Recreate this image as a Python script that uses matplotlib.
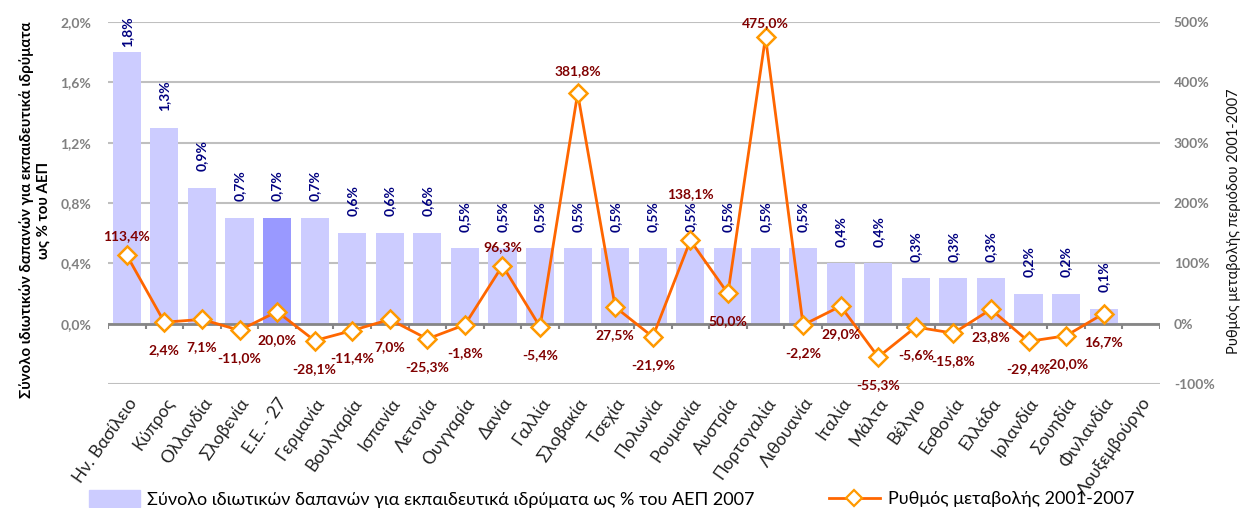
import numpy as np
import matplotlib.pyplot as plt
from matplotlib.lines import Line2D
from matplotlib.patches import Patch

plt.rcParams['font.family'] = ['Lato', 'DejaVu Sans']

# data
countries = ['Ην. Βασίλειο', 'Κύπρος', 'Ολλανδία', 'Σλοβενία', 'Ε.Ε. - 27', 'Γερμανία',
             'Βουλγαρία', 'Ισπανία', 'Λετονία', 'Ουγγαρία', 'Δανία', 'Γαλλία',
             'Σλοβακία', 'Τσεχία', 'Πολωνία', 'Ρουμανία', 'Αυστρία', 'Πορτογαλία',
             'Λιθουανία', 'Ιταλία', 'Μάλτα', 'Βέλγιο', 'Εσθονία', 'Ελλάδα',
             'Ιρλανδία', 'Σουηδία', 'Φινλανδία', 'Λουξεμβούργο']
share_2007 = [1.8, 1.3, 0.9, 0.7, 0.7, 0.7, 0.6, 0.6, 0.6, 0.5, 0.5, 0.5, 0.5, 0.5,
              0.5, 0.5, 0.5, 0.5, 0.5, 0.4, 0.4, 0.3, 0.3, 0.3, 0.2, 0.2, 0.1, None]
change_01_07 = [113.4, 2.4, 7.1, -11.0, 20.0, -28.1, -11.4, 7.0, -25.3, -1.8, 96.3,
                -5.4, 381.8, 27.5, -21.9, 138.1, 50.0, 475.0, -2.2, 29.0, -55.3,
                -5.6, -15.8, 23.8, -29.4, -20.0, 16.7, None]

bar_name = 'Σύνολο ιδιωτικών δαπανών για εκπαιδευτικά ιδρύματα ως % του ΑΕΠ 2007'
line_name = 'Ρυθμός μεταβολής 2001-2007'

# label placement for the line (px from the point, + is above)
line_lbl_off = {0: 19, 10: 18, 12: 22, 15: 46, 17: 14}

def pct(v, dec=1):
    return f'{v:.{dec}f}%'.replace('.', ',')

W, H = 1241, 508
fig = plt.figure(figsize=(W / 100, H / 100), dpi=100)
ax = fig.add_axes([108 / W, 1 - 384 / H, (1160 - 108) / W, (384 - 22) / H])
ax2 = ax.twinx()

n = len(countries)
x = np.arange(n)

# bars
bx = [i for i in range(n) if share_2007[i] is not None]
bv = [share_2007[i] for i in bx]
cols = ['#9999FF' if countries[i] == 'Ε.Ε. - 27' else '#CCCCFF' for i in bx]
ax.bar(bx, bv, width=0.75, color=cols, zorder=2)
for i, v in zip(bx, bv):
    off = 12 if v < 1.7 else 3.5
    ax.annotate(pct(v), (i, v), xytext=(0, off), textcoords='offset points',
                rotation=90, ha='center', va='bottom', color='#000080',
                fontsize=10, fontweight='bold')

ax.set_xlim(-0.5, n - 0.5)
ax.set_ylim(-0.4, 2.0)
ax.set_yticks(np.arange(-0.4, 2.01, 0.4))
ax.set_yticklabels([''] + [pct(v) for v in np.arange(0, 2.01, 0.4)])
ax.grid(axis='y', color='#BFBFBF', lw=1.5, zorder=0)
ax.set_axisbelow(True)
ax.tick_params(axis='y', length=0, pad=12, labelcolor='#808080', labelsize=10)
for lbl in ax.get_yticklabels():
    lbl.set_fontweight('bold')
ax.axhline(0, color='#868686', lw=2, zorder=3)
ax.vlines(np.arange(-0.5, n, 1), -0.035, 0, color='#868686', lw=1.5, zorder=3)

ax.set_xticks(x)
ax.set_xticklabels(countries, rotation=55, ha='right', rotation_mode='anchor',
                   fontsize=12.5, color='#222222')
ax.tick_params(axis='x', length=0, pad=8)

# line
yv = np.array([np.nan if v is None else v for v in change_01_07], dtype=float)
ax2.plot(x, yv, color='#FF6600', lw=2, marker='D', markersize=9,
         markerfacecolor='white', markeredgecolor='#FF9900', markeredgewidth=1.8,
         zorder=5)
for i, v in enumerate(change_01_07):
    if v is None:
        continue
    off_px = line_lbl_off.get(i, -28)
    ax2.annotate(pct(v), (i, v), xytext=(0, off_px * 0.72),
                 textcoords='offset points', ha='center', va='center',
                 color='#800000', fontsize=10, fontweight='bold', zorder=6)

ax2.set_ylim(-100, 500)
ax2.set_yticks(np.arange(-100, 501, 100))
ax2.set_yticklabels([f'{v}%' for v in range(-100, 501, 100)])
ax2.tick_params(axis='y', length=0, pad=10, labelcolor='#808080', labelsize=10)
for lbl in ax2.get_yticklabels():
    lbl.set_fontweight('bold')

for a in (ax, ax2):
    for s in a.spines.values():
        s.set_visible(False)

fig.text(35 / W, 1 - 210 / H,
         'Σύνολο ιδιωτικών δαπανών για εκπαιδευτικά ιδρύματα\nως % του ΑΕΠ',
         rotation=90, ha='center', va='center', fontsize=10.8, fontweight='bold',
         linespacing=1.25)
fig.text(1234 / W, 1 - 221 / H, 'Ρυθμός μεταβολής περιόδου 2001-2007',
         rotation=90, ha='center', va='center', fontsize=10.5, color='#111111')

# legends
fig.legend(handles=[Patch(color='#CCCCFF')], labels=[bar_name],
           loc='center left', bbox_to_anchor=(89 / W, 9 / H), frameon=False,
           fontsize=13, handlelength=2.8, handleheight=1.0, handletextpad=0.4,
           borderpad=0, borderaxespad=0)
fig.legend(handles=[Line2D([0], [0], color='#FF6600', lw=2, marker='D',
                           markersize=8, markerfacecolor='white',
                           markeredgecolor='#FF9900', markeredgewidth=1.6)],
           labels=[line_name], loc='center left', bbox_to_anchor=(829 / W, 9 / H),
           frameon=False, fontsize=13, handlelength=2.8, handletextpad=0.45,
           borderpad=0, borderaxespad=0)

fig.savefig('out.png', dpi=100)
